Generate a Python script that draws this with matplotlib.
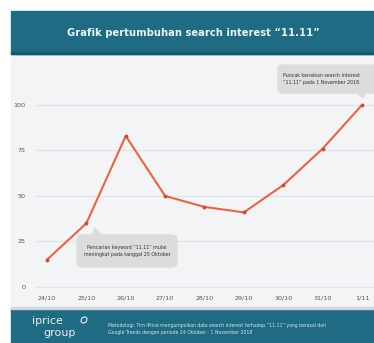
import matplotlib
matplotlib.use("Agg")
import matplotlib.pyplot as plt
from matplotlib.patches import Rectangle, FancyBboxPatch, Polygon, Ellipse

# Data
dates = ["24/10", "25/10", "26/10", "27/10", "28/10", "29/10", "30/10", "31/10", "1/11"]
interest = [15, 35, 83, 50, 44, 41, 56, 76, 100]
y_ticks = [0, 25, 50, 75, 100]

title = "Grafik pertumbuhan search interest \u201c11.11\u201d"
note_peak = "Puncak kenaikan search interest\n\u201c11.11\u201d pada 1 November 2018."
note_start = "Pencarian keyword \u201c11.11\u201d mulai\nmeningkat pada tanggal 25 Oktober"
footer = ("Metodologi: Tim iPrice mengumpulkan data search interest terhadap \u201c11.11\u201d yang berasal dari\n"
          "Google Trends dengan periode 24 Oktober - 1 November 2018")

W, H = 374, 343
teal = "#1e6b83"
bg = "#f3f4f6"
line_col = "#e9643f"

fig = plt.figure(figsize=(W / 100, H / 100), dpi=100)
fig.patch.set_facecolor("white")


def fx(x):
    return x / W


def fy(y):
    return 1 - y / H


def rect(x0, y0, x1, y1, color, z=-1):
    fig.patches.append(Rectangle((fx(x0), fy(y1)), fx(x1 - x0), (y1 - y0) / H,
                                 transform=fig.transFigure, color=color, zorder=z))


# panels
rect(11, 54, W, 309, bg)
rect(11, 11, W, 54, teal)
rect(11, 52, W, 54, "#175a6e")
rect(11, 308, W, H, teal)
rect(11, 307, W, 309, "#cfd8dc")

fig.text(fx(193), fy(33), title, color="#eaf2f4", fontsize=7.2, fontweight="bold",
         ha="center", va="center")

# main axes: index 0 -> px 47, 8 -> px 362 ; y 0 -> px 287, 100 -> px 105
xpu = (362 - 47) / 8
ypu = (287 - 105) / 100
xlim = (-0.3, 8.3)
ylim = (-3, 108)
left = 47 + xlim[0] * xpu
right = 47 + xlim[1] * xpu
bottom = 287 - ylim[0] * ypu
top = 287 - ylim[1] * ypu
ax = fig.add_axes([fx(left), fy(bottom), fx(right - left), (bottom - top) / H])
ax.set_facecolor("none")
ax.set_zorder(2)
ax.set_xlim(xlim)
ax.set_ylim(ylim)
for s in ax.spines.values():
    s.set_visible(False)

for t in y_ticks:
    ax.axhline(t, color="#e2e4e7", lw=0.9, zorder=1)

x = list(range(len(dates)))
ax.plot(x, interest, color=line_col, lw=1.5, zorder=3, solid_joinstyle="round")
ax.plot(x, interest, "o", color="#c9502f", ms=1.8, zorder=4)

ax.set_xticks(x)
ax.set_xticklabels(dates)
ax.set_yticks(y_ticks)
ax.tick_params(length=0, labelsize=4.6, colors="#555555")
ax.tick_params(axis="x", pad=2)
ax.tick_params(axis="y", pad=7)

# callouts
box_col = "#dcdcdd"
fig.patches.append(FancyBboxPatch((fx(278), fy(93)), fx(100), (93 - 65) / H,
                                  boxstyle="round,pad=0,rounding_size=0.012",
                                  transform=fig.transFigure, color=box_col, zorder=5))
fig.patches.append(Polygon([(fx(356), fy(92)), (fx(366), fy(92)), (fx(363), fy(98))],
                           closed=True, transform=fig.transFigure, color=box_col, zorder=5))
fig.text(fx(283), fy(79), note_peak, fontsize=3.4, color="#333333", ha="left", va="center",
         linespacing=1.4, zorder=6)

fig.patches.append(FancyBboxPatch((fx(77), fy(267)), fx(100), (267 - 235) / H,
                                  boxstyle="round,pad=0,rounding_size=0.015",
                                  transform=fig.transFigure, color=box_col, zorder=5))
fig.patches.append(Polygon([(fx(92), fy(236)), (fx(102), fy(236)), (fx(95), fy(228))],
                           closed=True, transform=fig.transFigure, color=box_col, zorder=5))
fig.text(fx(127), fy(251), note_start, fontsize=3.4, color="#333333", ha="center", va="center",
         linespacing=1.4, zorder=6)

# footer
fig.text(fx(47), fy(324), "iprice", fontsize=8, color="#e8eef0", ha="center", va="baseline")
fig.text(fx(60), fy(336), "group", fontsize=8, color="#e8eef0", ha="center", va="baseline")
fig.patches.append(Ellipse((fx(84), fy(320)), fx(7), 5 / H, angle=60, fill=False,
                           ec="#e8eef0", lw=0.8, transform=fig.transFigure, zorder=5))
fig.text(fx(108), fy(329), footer, fontsize=3.3, color="#d7e3e7", ha="left", va="center",
         linespacing=1.6)

fig.savefig("out.png", dpi=100)
